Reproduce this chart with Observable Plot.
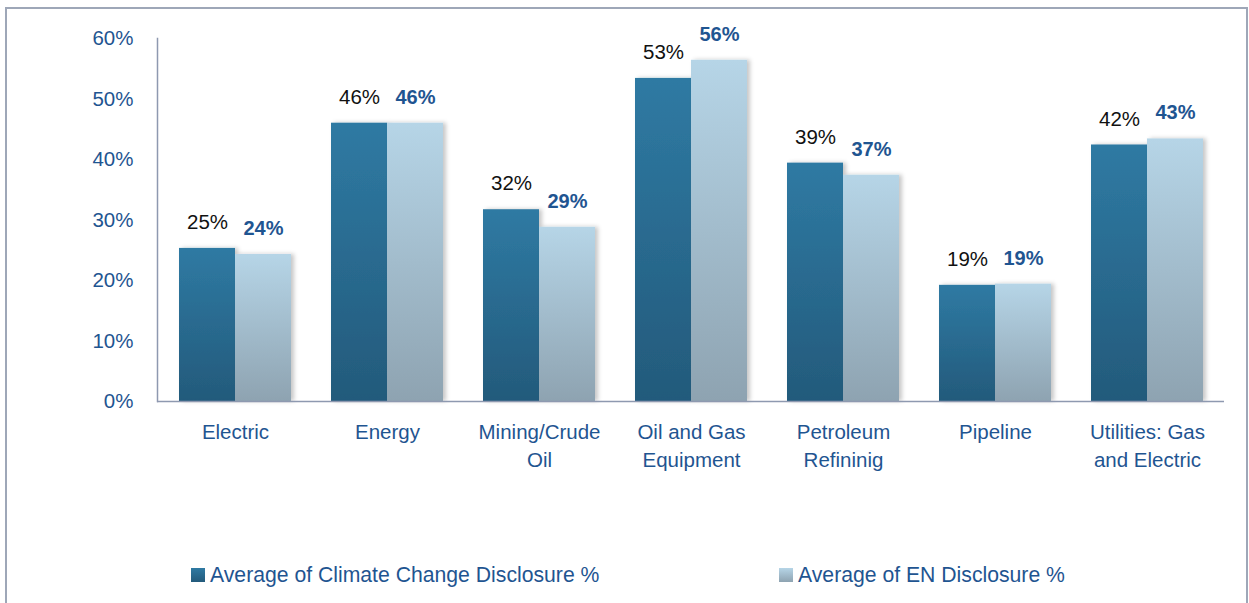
<!DOCTYPE html>
<html><head><meta charset="utf-8">
<script src="https://cdn.jsdelivr.net/npm/d3@7"></script>
<script src="https://cdn.jsdelivr.net/npm/@observablehq/plot@0.6"></script>
<style>
body{margin:0;background:#fff;font-family:"Liberation Sans",Arial,sans-serif;}
#wrap{position:relative;width:1249px;height:603px;overflow:hidden;background:#fff;}
#frame{position:absolute;left:5px;top:7px;width:1243px;height:640px;border:2px solid #9ea7b8;box-sizing:border-box;}
#chart{position:absolute;left:0;top:0;}
#legend{position:absolute;top:562px;left:0;width:1249px;height:26px;font-size:21.2px;color:#1f5591;}
.item{position:absolute;top:0;display:flex;align-items:center;height:26px;white-space:nowrap;}
.sw{width:14px;height:14px;margin-right:5px;}
</style></head>
<body><div id="wrap"><div id="frame"></div><div id="chart"></div><div id="legend"></div></div>
<script>
const categories = ["Electric","Energy","Mining/Crude Oil","Oil and Gas Equipment","Petroleum Refininig","Pipeline","Utilities: Gas and Electric"];
const tickLabels = ["Electric","Energy","Mining/Crude\nOil","Oil and Gas\nEquipment","Petroleum\nRefininig","Pipeline","Utilities: Gas\nand Electric"];
const climateValues = [0.253,0.46,0.317,0.534,0.394,0.192,0.424];
const enValues = [0.243,0.46,0.288,0.564,0.374,0.194,0.434];
const seriesNames = ["Average of Climate Change Disclosure %","Average of EN Disclosure %"];
const yTicks = [0,0.1,0.2,0.3,0.4,0.5,0.6];

const data = categories.map((c,i)=>({category:c, climate:climateValues[i], en:enValues[i]}));
const pct = d3.format(".0%");
const blue = "#1f5591";

const plot = Plot.plot({
  width:1249, height:500, marginLeft:157, marginRight:25, marginTop:38, marginBottom:99,
  style:{fontFamily:"'Liberation Sans', Arial, sans-serif", background:"transparent", overflow:"visible"},
  x:{domain:categories, paddingInner:0.6325, paddingOuter:0.31625, align:0.5, axis:null},
  y:{domain:[0,0.6], axis:null},
  marks:[
    Plot.barY(data,{x:"category", y:"climate", dx:-28, fill:"url(#gDark)"}),
    Plot.barY(data,{x:"category", y:"en", dx:28, fill:"url(#gLight)"}),
    Plot.ruleY([0],{stroke:"#8e99b0", strokeWidth:1.5}),
    Plot.frame({anchor:"left", stroke:"#8e99b0", strokeWidth:1.5}),
    Plot.axisY({ticks:yTicks, tickFormat:pct, tickSize:0, tickPadding:24, fontSize:20.5, color:blue, label:null}),
    Plot.axisX({tickSize:0, tickPadding:17, fontSize:20.5, color:blue, lineHeight:1.38, label:null,
      tickFormat:c=>tickLabels[categories.indexOf(c)]}),
    Plot.text(data,{x:"category", y:"climate", text:d=>pct(d.climate), dx:-28, dy:-26, fontSize:20.5, fill:"#111"}),
    Plot.text(data,{x:"category", y:"en", text:d=>pct(d.en), dx:28, dy:-26, fontSize:20, fontWeight:"bold", fill:blue})
  ]
});

const svg = d3.select(plot);
const defs = svg.insert("defs",":first-child");
function grad(id, top, bottom){
  const g = defs.append("linearGradient").attr("id",id).attr("x1",0).attr("y1",0).attr("x2",0).attr("y2",1);
  g.append("stop").attr("offset","0%").attr("stop-color",top);
  g.append("stop").attr("offset","100%").attr("stop-color",bottom);
}
grad("gDark","#2f7aa3","#235a7b");
grad("gLight","#b6d5e7","#8ea3b1");
const f = defs.append("filter").attr("id","sh").attr("x","-10%").attr("y","-10%").attr("width","130%").attr("height","120%");
f.append("feDropShadow").attr("dx",3).attr("dy",0).attr("stdDeviation",2).attr("flood-color","#000").attr("flood-opacity",0.22);
svg.selectAll("g[aria-label='bar']").attr("filter","url(#sh)");
document.getElementById("chart").appendChild(plot);

const legend = d3.select("#legend");
const lx = [191, 779];
seriesNames.forEach((name,i)=>{
  const it = legend.append("div").attr("class","item").style("left",lx[i]+"px");
  it.append("div").attr("class","sw").style("background", i===0 ? "linear-gradient(#2f7aa3,#235a7b)" : "linear-gradient(#b6d5e7,#8ea3b1)");
  it.append("span").text(name);
});
</script>
</body></html>
